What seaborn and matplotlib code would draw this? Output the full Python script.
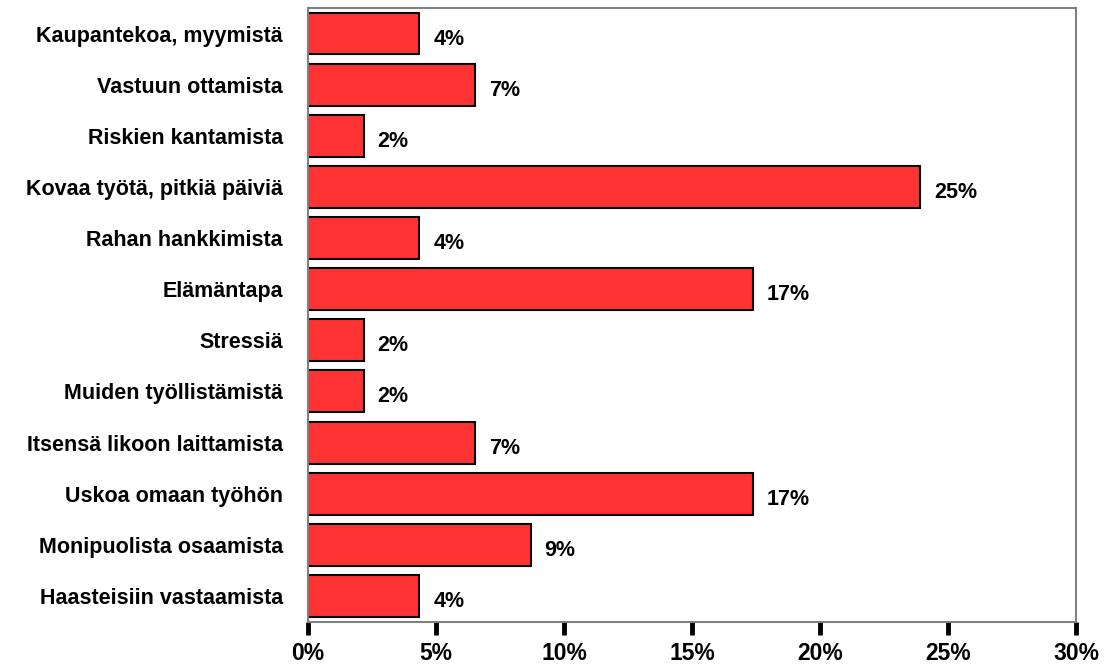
import matplotlib
matplotlib.use("Agg")
import matplotlib.pyplot as plt
import seaborn as sns
import pandas as pd

categories = [
    "Kaupantekoa, myymistä",
    "Vastuun ottamista",
    "Riskien kantamista",
    "Kovaa työtä, pitkiä päiviä",
    "Rahan hankkimista",
    "Elämäntapa",
    "Stressiä",
    "Muiden työllistämistä",
    "Itsensä likoon laittamista",
    "Uskoa omaan työhön",
    "Monipuolista osaamista",
    "Haasteisiin vastaamista",
]
values = [4.35, 6.52, 2.17, 23.91, 4.35, 17.39, 2.17, 2.17, 6.52, 17.39, 8.70, 4.35]
value_labels = ["4%", "7%", "2%", "25%", "4%", "17%", "2%", "2%", "7%", "17%", "9%", "4%"]
x_ticks = [0, 5, 10, 15, 20, 25, 30]
x_tick_labels = ["0%", "5%", "10%", "15%", "20%", "25%", "30%"]

sns.set_theme(style="white")
plt.rcParams["font.family"] = ["Liberation Sans", "DejaVu Sans"]
plt.rcParams["font.weight"] = "bold"
plt.rcParams["text.color"] = "black"
plt.rcParams["xtick.color"] = "black"
plt.rcParams["ytick.color"] = "black"

df = pd.DataFrame({"cat": categories, "val": values})

fig = plt.figure(figsize=(11.09, 6.64), dpi=100)
ax = fig.add_axes([0.2777, 0.064, 0.9702 - 0.2777, 0.988 - 0.064])

sns.barplot(data=df, x="val", y="cat", orient="h", color="#FF3333",
            saturation=1, edgecolor="black", linewidth=1.5, width=0.82, ax=ax)

ax.set_xlim(0, 30)
ax.set_ylim(11.5, -0.5)
ax.set_xticks(x_ticks)
ax.set_xticklabels(x_tick_labels, fontsize=16.5, fontweight="bold", color="black")
ax.tick_params(axis="x", direction="out", length=9, width=3.5, color="black",
               pad=6, bottom=True)
ax.tick_params(axis="y", length=0, pad=18)
for lbl in ax.get_yticklabels():
    lbl.set_fontsize(15.5)
    lbl.set_fontweight("bold")
    lbl.set_color("black")
ax.set_xlabel("")
ax.set_ylabel("")

for s in ax.spines.values():
    s.set_visible(True)
    s.set_color("#808080")
    s.set_linewidth(1.5)

for i, (v, t) in enumerate(zip(values, value_labels)):
    ax.annotate(t, xy=(v, i), xytext=(10, -4), textcoords="offset points",
                ha="left", va="center", fontsize=15.5, fontweight="bold",
                color="black")

fig.savefig("out.png", dpi=100)
